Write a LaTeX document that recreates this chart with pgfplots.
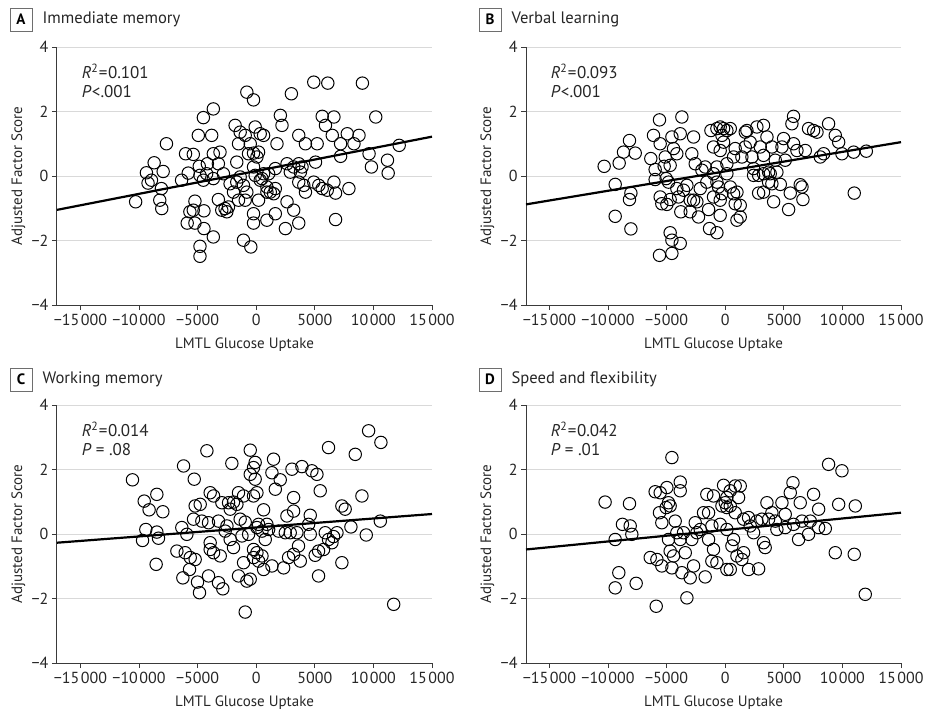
\documentclass[border=0pt]{standalone}
\usepackage{fontspec}
\setmainfont{PT Sans}
\usepackage{pgfplots}
\pgfplotsset{compat=1.18}
\usetikzlibrary{calc}

\definecolor{axisgray}{HTML}{3A3A3A}
\definecolor{gridgray}{HTML}{D9D9D9}
\definecolor{boxgray}{HTML}{6E6E6E}

\newcommand{\mn}{−}
\newcommand{\tsp}{\kern1.5pt}

\pgfplotsset{
  panel/.style={
    scale only axis, width=375pt, height=258pt,
    xmin=-17000, xmax=15000, ymin=-4, ymax=4,
    axis x line*=bottom, axis y line*=left,
    scaled ticks=false,
    xtick={-15000,-10000,-5000,0,5000,10000,15000},
    xticklabels={\mn15\tsp000,\mn10\tsp000,\mn5000,0,5000,10\tsp000,15\tsp000},
    ytick={-4,-2,0,2,4},
    yticklabels={\mn4,\mn2,0,2,4},
    ymajorgrids, grid style={gridgray, line width=1pt},
    tick align=outside, major tick length=5pt,
    tick style={axisgray, line width=1pt},
    axis line style={axisgray, line width=1pt},
    tick label style={font=\fontsize{16}{18}\selectfont, text=black!85},
    xticklabel style={yshift=-1pt},
    label style={font=\fontsize{15}{18}\selectfont, text=black!85},
    xlabel={LMTL Glucose Uptake},
    ylabel={Adjusted Factor Score},
    xlabel style={at={(axis description cs:0.5,0)}, anchor=center, yshift=-40pt},
    ylabel style={at={(axis description cs:-0.103,0.5)}, anchor=center},
    clip=false,
  },
  pts/.style={only marks, mark=o, mark size=6.2pt, mark options={line width=1pt, black}},
  fit/.style={no marks, black, line width=2.2pt},
}

\newcommand{\paneltitle}[3]{%
  \node[draw=boxgray, line width=0.9pt, minimum width=22pt, minimum height=23pt,
        inner sep=0pt, font=\fontsize{15}{18}\selectfont\bfseries] at (#1) {#2};
  \node[anchor=west, font=\fontsize{16.6}{20}\selectfont, text=black!85]
        at ($(#1)+(18pt,0)$) {#3};
}

\begin{document}
\begin{tikzpicture}[x=1pt, y=1pt]
\useasboundingbox (0,0) rectangle (926,-717);

\paneltitle{21,-19.5}{A}{Immediate memory}
\paneltitle{490,-19.5}{B}{Verbal learning}
\paneltitle{21,-379.5}{C}{Working memory}
\paneltitle{490,-379.5}{D}{Speed and flexibility}

% A
\begin{axis}[panel, at={(57pt,-305pt)}, anchor=south west]
\addplot[pts] coordinates {
(-10290,-0.80) (-9370,0.10) (-8710,0.41) (-9230,-0.22) (-8940,-0.13) (-7940,0.14)
(-7660,1.00) (-8090,-0.39) (-8230,-0.75) (-8060,-1.01) (-6030,0.69) (-5370,0.67)
(-6370,-0.13) (-5800,0.09) (-4940,1.26) (-4510,1.81) (-3660,2.08) (-3800,1.26)
(-4860,0.30) (-5230,-0.78) (-5660,-1.11) (-5370,-1.06) (-5890,-1.46) (-5230,-1.46)
(-4460,-1.08) (-4460,-1.63) (-3660,-1.89) (-4800,-2.18) (-4800,-2.49) (-4170,0.38)
(-3660,0.69) (-3090,0.74) (-3230,0.38) (-4230,0.07) (-4510,-0.13) (-3660,-0.08)
(-4800,0.02) (-3230,-0.73) (-2940,-1.06) (-2660,-1.01) (-2510,-1.11) (-2370,-0.96)
(-2800,0.07) (-2230,-0.24) (-1800,1.57) (-1370,1.36) (-1510,1.00) (-800,2.60)
(-230,2.36) (-940,1.26) (-510,1.00) (-90,1.52) (340,1.31) (630,1.26)
(-660,0.69) (-230,0.71) (200,0.74) (60,0.59) (-1660,0.43) (-1370,-0.03)
(-1660,-0.19) (-1940,-0.50) (-1510,-0.75) (-940,-0.75) (-1090,-0.29) (-800,-0.50)
(-230,-1.17) (-230,-1.46) (-1090,-1.99) (-460,-2.20) (-230,0.28) (-90,0.02)
(340,-0.13) (630,0.07) (1060,0.07) (910,-0.34) (490,-0.08) (910,-0.50)
(1200,-0.50) (1490,-0.55) (1630,-0.39) (200,-0.75) (910,-1.37) (1630,-1.17)
(1630,0.23) (2060,1.88) (2200,1.57) (1770,1.00) (3000,2.55) (2630,0.38)
(2910,0.12) (3200,0.28) (3630,0.38) (3910,0.28) (3770,0.12) (3630,-0.19)
(4060,-0.29) (4200,-0.50) (2630,-0.80) (3200,-1.06) (3630,-1.46) (2490,-1.63)
(3630,1.26) (4200,1.00) (4910,2.91) (6110,2.88) (5200,1.00) (5060,0.43)
(4910,-0.19) (5340,-0.29) (5630,-0.39) (6060,-0.44) (5630,1.85) (5910,1.57)
(6630,1.83) (6490,1.26) (7200,1.00) (7200,0.61) (6630,-0.19) (6770,-0.53)
(6770,-1.35) (7770,1.31) (8340,1.00) (8770,1.26) (7910,-0.39) (9060,2.88)
(10200,1.83) (9630,0.69) (9830,0.28) (11200,0.49) (11260,0.09) (12200,0.95)
};
\addplot[fit] coordinates {(-17000,-1.05) (15000,1.22)};
\node[anchor=west, font=\fontsize{17}{20}\selectfont, text=black!85, align=left, inner sep=0pt]
  at (axis cs:-14900,2.95) {\textit{R}\textsuperscript{2}\kern0.5pt=\kern0.5pt0.101\\[-1pt]\textit{P}\kern0.5pt<.001};
\end{axis}

% B
\begin{axis}[panel, at={(526pt,-305pt)}, anchor=south west]
\addplot[pts] coordinates {
(-10330,0.30) (-9390,-0.26) (-9390,-1.25) (-9050,0.40) (-8680,0.74) (-8170,1.10)
(-7680,0.71) (-8050,-0.53) (-8170,-0.73) (-8050,-1.64) (-6350,0.54) (-6120,1.26)
(-5610,1.74) (-5980,0.20) (-5980,-0.11) (-5550,1.00) (-5210,0.30) (-5550,-0.65)
(-5410,-0.86) (-4980,-0.88) (-4700,-0.73) (-5040,-0.08) (-4840,-0.19) (-5120,0.59)
(-4550,1.21) (-4700,-1.76) (-4550,-1.99) (-3840,-2.09) (-5610,-2.46) (-4550,-2.40)
(-4410,0.85) (-4130,0.69) (-3700,1.83) (-3840,1.31) (-4700,0.33) (-4130,-0.39)
(-3980,-0.65) (-3790,-1.11) (-3560,-0.44) (-3270,-0.29) (-2990,-0.75) (-2700,1.21)
(-2850,0.69) (-2560,0.38) (-2700,-0.75) (-2990,-1.11) (-2280,-1.27) (-2420,-0.80)
(-1990,0.18) (-1710,0.28) (-2130,-0.39) (-1570,-0.19) (-1420,-1.04) (-1340,-1.63)
(-710,-1.76) (-1220,1.41) (-1000,0.90) (-710,1.47) (-430,1.52) (-140,1.47)
(140,1.41) (430,1.47) (-280,1.26) (-140,1.05) (-430,0.79) (-1000,0.07)
(-710,0.28) (-710,-0.19) (-570,-0.34) (-280,-0.55) (-430,-0.75) (-1000,-0.65)
(-430,-1.22) (140,0.07) (140,0.38) (710,0.59) (850,0.85) (430,-0.34)
(710,-0.55) (1000,-0.50) (850,-0.86) (1280,-0.91) (1000,-1.37) (1280,-1.27)
(1420,0.59) (1710,0.90) (1710,1.36) (1850,1.41) (2130,1.05) (2280,0.59)
(2420,0.23) (2420,0.02) (2700,1.52) (3270,1.57) (2990,0.90) (3270,0.64)
(2850,0.02) (3270,0.07) (3700,0.12) (3840,0.07) (2850,-0.53) (3270,-0.50)
(3700,-0.19) (3980,-0.24) (4130,-0.80) (3560,1.21) (3980,0.90) (4270,0.49)
(4410,0.12) (4700,-0.26) (4840,0.90) (4980,1.16) (5120,0.49) (5410,-1.04)
(5550,-0.53) (5690,1.62) (5830,1.85) (5830,1.00) (6120,0.79) (6400,-0.27)
(6550,-0.34) (6630,-0.73) (6830,0.79) (7110,1.47) (7540,1.41) (7830,1.36)
(8110,0.59) (8400,0.69) (8820,1.62) (9390,1.26) (9680,1.05) (9960,0.69)
(10960,0.74) (12040,0.77) (11010,-0.53)
};
\addplot[fit] coordinates {(-17000,-0.88) (15000,1.05)};
\node[anchor=west, font=\fontsize{17}{20}\selectfont, text=black!85, align=left, inner sep=0pt]
  at (axis cs:-14900,2.95) {\textit{R}\textsuperscript{2}\kern0.5pt=\kern0.5pt0.093\\[-1pt]\textit{P}\kern0.5pt<.001};
\end{axis}

% C
\begin{axis}[panel, at={(57pt,-663pt)}, anchor=south west]
\addplot[pts] coordinates {
(-10560,1.68) (-9560,1.02) (-9140,0.75) (-8480,1.23) (-7970,0.69) (-9420,0.14)
(-9700,-0.20) (-8480,0.06) (-8340,-0.13) (-8540,-0.94) (-6770,-0.53) (-6350,0.20)
(-6200,2.11) (-5290,1.70) (-5920,-0.01) (-6060,-0.58) (-5630,-0.73) (-5210,-0.79)
(-6260,-1.36) (-5690,-1.10) (-5010,-1.49) (-4840,-1.82) (-5210,0.87) (-4780,0.92)
(-5350,0.46) (-4640,0.40) (-4210,2.58) (-3930,1.28) (-3640,1.18) (-4070,0.35)
(-3930,-0.27) (-3930,-0.48) (-3640,-0.58) (-4070,-1.30) (-3220,0.40) (-3070,-0.68)
(-3220,-1.51) (-2850,-1.70) (-2930,0.97) (-2360,0.97) (-2080,2.19) (-1940,0.99)
(-1650,0.92) (-2220,0.77) (-2500,0.25) (-2220,-0.17) (-1940,-0.42) (-2650,0.09)
(-1510,1.28) (-1080,1.18) (-1370,0.46) (-940,0.37) (-1220,-0.06) (-650,-0.01)
(-1510,-1.30) (-1080,-0.89) (-800,-1.46) (-510,-1.40) (-940,-2.42) (-510,2.60)
(-90,2.22) (-230,2.06) (-510,1.85) (-90,1.70) (60,1.28) (-230,1.18)
(630,0.75) (200,0.30) (60,0.20) (490,0.09) (910,0.30) (1060,0.14)
(770,-0.17) (-230,-0.48) (60,-0.58) (-230,-0.73) (200,-0.84) (490,-0.68)
(630,-1.10) (1340,-0.99) (1480,2.32) (1340,1.90) (2050,1.68) (1630,1.39)
(1910,0.09) (2480,0.04) (2900,0.04) (2620,0.56) (3190,0.71) (3190,1.13)
(3050,2.01) (3900,2.09) (3470,0.04) (3610,-0.37) (3190,-0.63) (2760,-0.73)
(2340,-1.05) (3760,-0.84) (4610,0.58) (4470,0.30) (4610,-0.01) (4750,1.96)
(5180,1.85) (5460,1.34) (5030,-0.66) (5320,-0.53) (5750,-0.48) (5890,0.04)
(6170,-0.17) (6460,-0.27) (6600,-0.08) (6890,0.04) (5320,-1.30) (6170,2.68)
(7310,0.87) (7590,0.77) (7310,-0.89) (8080,0.22) (8450,2.47) (9020,1.18)
(9390,-0.03) (9590,3.20) (10640,2.84) (10590,0.40) (11730,-2.18)
};
\addplot[fit] coordinates {(-17000,-0.27) (15000,0.62)};
\node[anchor=west, font=\fontsize{17}{20}\selectfont, text=black!85, align=left, inner sep=0pt]
  at (axis cs:-14900,2.95) {\textit{R}\textsuperscript{2}\kern0.5pt=\kern0.5pt0.014\\[-1pt]\textit{P}~=~.08};
\end{axis}

% D
\begin{axis}[panel, at={(526pt,-663pt)}, anchor=south west]
\addplot[pts] coordinates {
(-10250,0.99) (-9390,-0.17) (-8770,0.30) (-8110,0.25) (-7970,-0.01) (-8170,0.94)
(-9080,-1.20) (-9390,-1.67) (-7600,-1.53) (-6400,-0.73) (-5980,1.31) (-5550,1.28)
(-5610,0.66) (-5410,0.35) (-5830,-0.79) (-5410,-0.99) (-5890,-2.24) (-4980,1.44)
(-4840,0.97) (-4700,0.87) (-5040,0.82) (-4550,2.37) (-4270,0.40) (-4840,-0.17)
(-4700,-0.53) (-4410,-0.68) (-4550,-1.05) (-3840,1.61) (-3840,1.34) (-4130,0.04)
(-3840,-0.17) (-3560,0.04) (-3410,-0.58) (-3700,-1.20) (-3270,-1.98) (-2990,-1.36)
(-2700,-0.99) (-2850,-0.17) (-2560,0.35) (-2420,0.04) (-2130,0.14) (-1850,0.66)
(-1710,-1.33) (-1570,1.23) (-1420,0.66) (-1000,1.18) (-1140,0.25) (-1420,-0.17)
(-1000,-0.48) (-1140,-0.84) (-710,-0.89) (-430,0.30) (-280,0.87) (-140,1.51)
(0,0.97) (140,0.82) (430,0.87) (140,1.13) (430,1.34) (850,1.49)
(1280,1.49) (1140,1.13) (850,0.66) (140,0.14) (140,-1.10) (430,-1.10)
(570,-0.37) (710,-0.17) (1000,-0.68) (1570,-0.58) (1420,-0.79) (1570,0.46)
(1990,0.51) (2130,0.25) (1990,-1.10) (2850,-1.08) (2420,0.04) (2700,0.40)
(3130,0.46) (3270,-0.27) (3410,-0.42) (3560,0.97) (3700,0.46) (3980,0.66)
(4270,0.40) (4410,0.14) (4840,0.97) (5120,0.61) (5120,0.20) (5550,1.28)
(5780,1.59) (5830,0.30) (6260,-0.17) (6400,0.97) (6550,0.40) (7110,-0.01)
(7260,0.40) (7540,1.23) (7970,0.77) (7970,0.20) (8540,0.17) (8820,2.16)
(9960,1.96) (9390,-0.58) (9680,0.92) (11010,-0.63) (11100,0.87) (11950,-1.87)
};
\addplot[fit] coordinates {(-17000,-0.48) (15000,0.66)};
\node[anchor=west, font=\fontsize{17}{20}\selectfont, text=black!85, align=left, inner sep=0pt]
  at (axis cs:-14900,2.95) {\textit{R}\textsuperscript{2}\kern0.5pt=\kern0.5pt0.042\\[-1pt]\textit{P}~=~.01};
\end{axis}
\end{tikzpicture}
\end{document}
